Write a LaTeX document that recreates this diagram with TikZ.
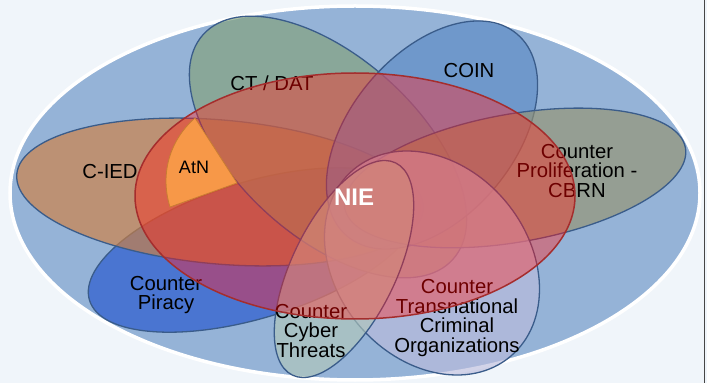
\documentclass[tikz,border=0pt]{standalone}
\usepackage{fontspec}
\setmainfont{Liberation Sans}

\definecolor{bgcol}{RGB}{240,245,250}
\definecolor{fieldcol}{RGB}{149,179,215}
\definecolor{petaledge}{RGB}{58,92,138}
\definecolor{ciedcol}{RGB}{209,128,63}
\definecolor{ctdatcol}{RGB}{132,162,121}
\definecolor{coincol}{RGB}{92,139,198}
\definecolor{cbrncol}{RGB}{150,147,112}
\definecolor{tcocol}{RGB}{187,188,220}
\definecolor{cybercol}{RGB}{177,199,186}
\definecolor{piracycol}{RGB}{34,85,207}
\definecolor{niecol}{RGB}{192,80,77}
\definecolor{nieedge}{RGB}{165,45,45}
\definecolor{atncol}{RGB}{247,152,72}
\definecolor{atnedge}{RGB}{200,125,50}

\tikzset{
  petal/.style={draw=petaledge, line width=1.3pt, fill opacity=0.65},
  petallabel/.style={font=\fontsize{20.3}{19.6}\selectfont, align=center, text=black},
}

\begin{document}
\begin{tikzpicture}[x=1pt,y=1pt]
\useasboundingbox (0,0) rectangle (707,383);
\fill[bgcol] (0,0) rectangle (707,383);
\coordinate (edgetop) at (704.5,383);
\coordinate (edgebot) at (704.5,0);
\draw[gray!55!black, line width=1.2pt] (edgetop) -- (edgebot);

% outer field
\coordinate (field) at (355,190);
\draw[white, line width=3.5pt, fill=fieldcol] (field) ellipse [x radius=345, y radius=187];

% petals
\coordinate (piracy) at (254,133);
\coordinate (cied) at (220,191);
\coordinate (ctdat) at (328,236);
\coordinate (coin) at (432,248);
\coordinate (cbrn) at (515,205);
\coordinate (tco) at (432,120);
\coordinate (cyber) at (344,114);
\draw[petal, fill=piracycol, rotate around={17:(piracy)}] (piracy) ellipse [x radius=172, y radius=68];
\draw[petal, fill=ciedcol, rotate around={-5:(cied)}] (cied) ellipse [x radius=204, y radius=72];
\draw[petal, fill=ctdatcol, rotate around={-42:(ctdat)}] (ctdat) ellipse [x radius=168, y radius=90];
\draw[petal, fill=coincol, rotate around={50:(coin)}] (coin) ellipse [x radius=132, y radius=82];
\draw[petal, fill=cbrncol, rotate around={10:(cbrn)}] (cbrn) ellipse [x radius=173, y radius=64];
\draw[petal, fill=tcocol, rotate around={-50:(tco)}] (tco) ellipse [x radius=122, y radius=96];
\draw[petal, fill=cybercol, rotate around={64:(cyber)}] (cyber) ellipse [x radius=118, y radius=52];

% petal labels
\node[petallabel] (ciedlbl) at (110,211) {C-IED};
\node[petallabel] (ctdatlbl) at (272,300) {CT / DAT};
\node[petallabel] (coinlbl) at (469,312) {COIN};
\node[petallabel] (cbrnlbl) at (577,212) {Counter\\Proliferation -\\CBRN};
\node[petallabel] (tcolbl) at (457,65) {Counter\\Transnational\\Criminal\\Organizations};
\node[petallabel] (cyberlbl) at (311,52) {Counter\\Cyber\\Threats};
\node[petallabel] (piracylbl) at (166,88) {Counter\\Piracy};

% NIE
\coordinate (nie) at (355,187);
\begin{scope}[blend mode=hard light]
\fill[niecol, fill opacity=0.85] (nie) ellipse [x radius=220, y radius=123];
\end{scope}
\draw[nieedge, line width=1.5pt] (nie) ellipse [x radius=220, y radius=123];

% AtN
\coordinate (atntop) at (195,265);
\coordinate (atnleft) at (170,176);
\coordinate (atnright) at (237,200);
\draw[fill=atncol, draw=atnedge, line width=0.8pt] (atntop) .. controls (172,245) and (159,212) .. (atnleft) -- (atnright) -- cycle;
\node[font=\fontsize{18}{18}\selectfont] (atnlbl) at (194,216) {AtN};

\node[font=\fontsize{24}{24}\selectfont\bfseries, text=white] (nielbl) at (354,186) {NIE};
\end{tikzpicture}
\end{document}
